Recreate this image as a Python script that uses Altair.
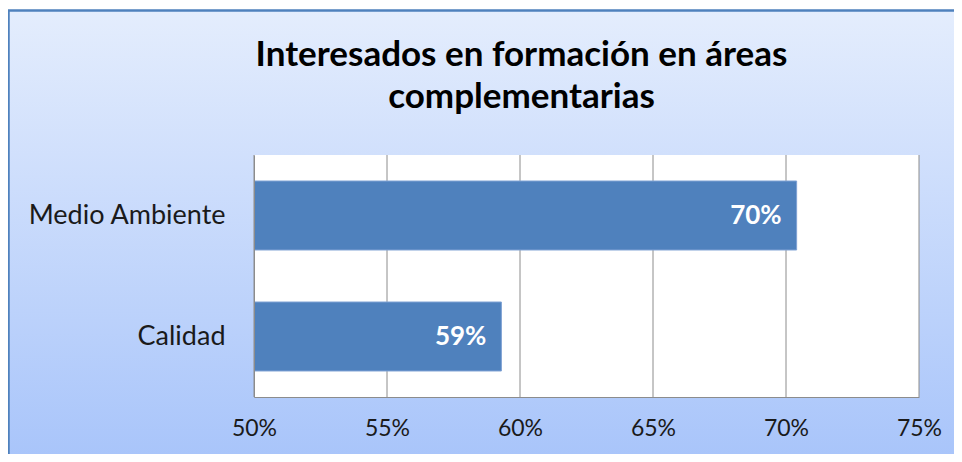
import altair as alt
import pandas as pd

categories = ["Medio Ambiente", "Calidad"]
values = [0.704, 0.593]
labels = ["70%", "59%"]
ticks = [0.50, 0.55, 0.60, 0.65, 0.70, 0.75]

W, H = 665, 242
FONT = "Lato"

df = pd.DataFrame({"cat": categories, "val": values, "lab": labels})
grid_df = pd.DataFrame({"t": ticks})

xscale = alt.Scale(domain=[0.5, 0.75], nice=False, zero=False)
yscale = alt.Scale(domain=categories, paddingInner=0.43, paddingOuter=0.215)

bg = alt.Chart(alt.Data(values=[{}])).mark_rect(
    fill=alt.Gradient(
        gradient="linear",
        stops=[alt.GradientStop(color="#E4EDFD", offset=0),
               alt.GradientStop(color="#A6C3FA", offset=1)],
        x1=0, x2=0, y1=0, y2=1),
    stroke="#4F81BD", strokeWidth=2.5,
).encode(x=alt.value(-245.5), x2=alt.value(W + 80), y=alt.value(-144.5), y2=alt.value(H + 80))

plot_bg = alt.Chart(alt.Data(values=[{}])).mark_rect(fill="white").encode(
    x=alt.value(0), x2=alt.value(W), y=alt.value(0), y2=alt.value(H))

grid = alt.Chart(grid_df).mark_rule(color="#8C8C8C", strokeWidth=1).encode(
    x=alt.X("t:Q", scale=xscale), y=alt.value(0), y2=alt.value(H))

x_axis = alt.Axis(format=".0%", values=ticks, grid=False, ticks=False, domainColor="#8C8C8C",
                  labelFont=FONT, labelFontSize=23, labelColor="#1a1a1a", labelPadding=20,
                  title=None, zindex=1, labelFlush=False)
y_axis = alt.Axis(grid=False, ticks=False, domainColor="#8C8C8C", labelFont=FONT,
                  labelFontSize=27, labelColor="#1a1a1a", labelPadding=29, title=None,
                  zindex=1, labelLimit=400)

bars = alt.Chart(df).mark_bar(color="#4F81BD", stroke="#7FA2D4", strokeWidth=1, clip=True).encode(
    x=alt.X("val:Q", scale=xscale, axis=x_axis),
    y=alt.Y("cat:N", scale=yscale, axis=y_axis, sort=categories),
)

text = alt.Chart(df).mark_text(align="right", baseline="middle", dx=-15, font=FONT,
                               fontSize=26, fontWeight="bold", color="white").encode(
    x=alt.X("val:Q", scale=xscale),
    y=alt.Y("cat:N", scale=yscale, sort=categories),
    text="lab:N",
)

chart = alt.layer(bg, plot_bg, grid, bars, text).properties(
    width=W, height=H,
    title=alt.TitleParams(
        text=["Interesados en formación en áreas", "complementarias"],
        font=FONT, fontSize=35, fontWeight="bold", color="#000000",
        anchor="middle", dx=-65, dy=106, lineHeight=42, offset=0),
    padding={"left": 246, "top": 147, "right": 35, "bottom": 57},
    autosize=alt.AutoSizeParams(type="none"),
).configure_view(stroke=None)

chart.save("out.html", embed_options={"renderer": "svg", "actions": False})
